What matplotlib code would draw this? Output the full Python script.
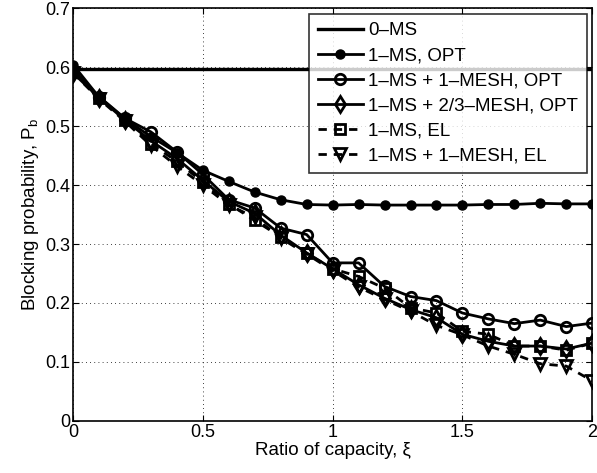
import matplotlib
matplotlib.use('Agg')
from matplotlib import pyplot as plt
import numpy as np

plt.rcParams['font.family'] = ['Liberation Sans', 'DejaVu Sans']

# Ratio of capacity values (x axis)
xi = [0.0, 0.1, 0.2, 0.3, 0.4, 0.5, 0.6, 0.7, 0.8, 0.9, 1.0,
      1.1, 1.2, 1.3, 1.4, 1.5, 1.6, 1.7, 1.8, 1.9, 2.0]

ms0 = [0.597] * 21
ms1_opt = [0.604, 0.549, 0.512, 0.482, 0.455, 0.425, 0.406, 0.388, 0.375, 0.367, 0.366,
           0.367, 0.366, 0.366, 0.366, 0.366, 0.367, 0.367, 0.369, 0.368, 0.368]
ms1_mesh1_opt = [0.595, 0.550, 0.513, 0.490, 0.456, 0.418, 0.375, 0.361, 0.327, 0.316, 0.268,
                 0.268, 0.228, 0.211, 0.204, 0.183, 0.173, 0.165, 0.171, 0.160, 0.166]
ms1_mesh23_opt = [0.590, 0.548, 0.510, 0.475, 0.445, 0.408, 0.372, 0.352, 0.315, 0.285, 0.258,
                  0.231, 0.208, 0.189, 0.175, 0.147, 0.135, 0.127, 0.127, 0.122, 0.132]
ms1_el = [0.592, 0.548, 0.510, 0.470, 0.440, 0.405, 0.368, 0.340, 0.312, 0.284, 0.258,
          0.245, 0.225, 0.192, 0.183, 0.152, 0.147, 0.127, 0.127, 0.120, 0.132]
ms1_mesh1_el = [0.590, 0.546, 0.508, 0.467, 0.432, 0.400, 0.366, 0.345, 0.310, 0.283, 0.255,
                0.227, 0.206, 0.186, 0.162, 0.146, 0.127, 0.113, 0.097, 0.093, 0.068]

fig = plt.figure(figsize=(5.97, 4.73), dpi=100)
ax = fig.add_axes([0.1223, 0.110, 0.8697, 0.873])

lw = 2.0
dash = (3, 2.5)
ax.plot(xi, ms0, 'k-', lw=2.4, label='0\u2013MS')
ax.plot(xi, ms1_opt, 'k-', marker='o', ms=6.5, mfc='k', lw=lw, label='1\u2013MS, OPT')
ax.plot(xi, ms1_mesh1_opt, 'k-', marker='o', ms=7.5, mfc='none', mew=2, lw=lw,
        label='1\u2013MS + 1\u2013MESH, OPT')
ax.plot(xi, ms1_mesh23_opt, 'k-', marker='d', ms=8, mfc='none', mew=2, lw=lw,
        label='1\u2013MS + 2/3\u2013MESH, OPT')
ax.plot(xi, ms1_el, 'k--', marker='s', ms=6.5, mfc='none', mew=2, lw=lw, dashes=dash,
        label='1\u2013MS, EL')
ax.plot(xi, ms1_mesh1_el, 'k--', marker='v', ms=9, mfc='none', mew=2, lw=lw, dashes=dash,
        label='1\u2013MS + 1\u2013MESH, EL')

ax.set_xlim(0, 2)
ax.set_ylim(0, 0.7)
ax.set_xticks([0, 0.5, 1, 1.5, 2])
ax.set_xticklabels(['0', '0.5', '1', '1.5', '2'])
ax.set_yticks([0, 0.1, 0.2, 0.3, 0.4, 0.5, 0.6, 0.7])
ax.set_yticklabels(['0', '0.1', '0.2', '0.3', '0.4', '0.5', '0.6', '0.7'])
ax.tick_params(direction='in', labelsize=13, length=4, pad=2, top=True, right=True)
ax.grid(True, color='k', linestyle=(0, (1, 4)), linewidth=0.6)
for s in ax.spines.values():
    s.set_linewidth(1.2)

ax.set_xlabel('Ratio of capacity, \u03be', fontsize=13.5, labelpad=1)
ax.set_ylabel('Blocking probability, P$_\\mathregular{b}$', fontsize=13.5, labelpad=3)

leg = ax.legend(loc='upper right', fontsize=13.5, frameon=True, fancybox=False,
                edgecolor='k', handlelength=2.4, handletextpad=0.3, borderpad=0.45,
                labelspacing=0.42, borderaxespad=0.3)
leg.get_frame().set_linewidth(1.2)

plt.savefig('out.png', dpi=100)
plt.close()
